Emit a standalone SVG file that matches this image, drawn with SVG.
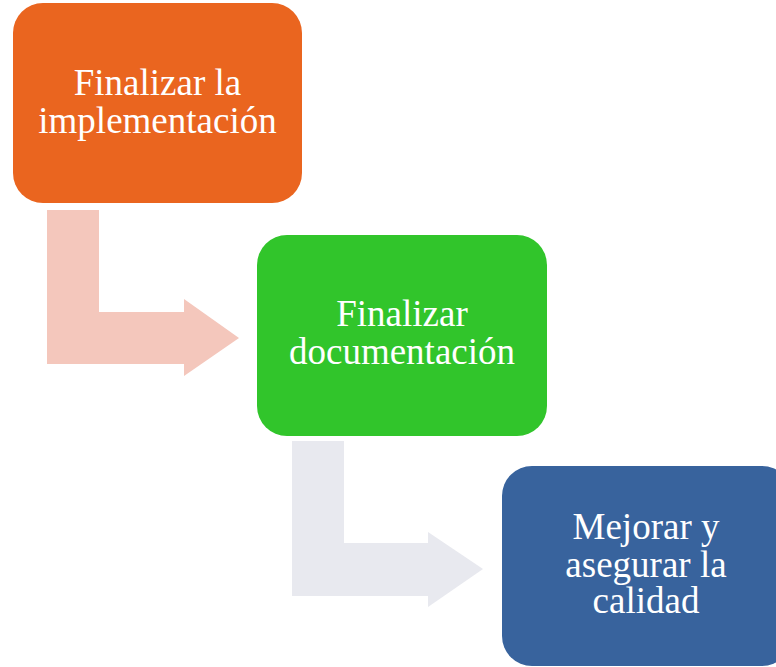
<svg xmlns="http://www.w3.org/2000/svg" width="776" height="667" viewBox="0 0 776 667">
<style>
.t{font-family:"Liberation Serif","Times New Roman",serif;font-size:37px;fill:#ffffff;text-anchor:middle}
</style>
<rect width="776" height="667" fill="#ffffff"/>
<g id="connectors">
<path id="arrow1" d="M47,210 H99 V312 H184 V299 L239,338 L184,376 V364 H47 Z" fill="#F4C7BC"/>
<path id="arrow2" d="M292,441 H344 V543 H428 V532 L483,569 L428,607 V596 H292 Z" fill="#E8E9EF"/>
</g>
<g id="node1">
<rect x="13" y="3" width="289" height="200" rx="30" ry="30" fill="#EA651F"/>
<text class="t" x="157.5" y="95">Finalizar la</text>
<text class="t" x="157.5" y="132.5">implementación</text>
</g>
<g id="node2">
<rect x="257" y="235" width="290" height="201" rx="30" ry="30" fill="#31C52B"/>
<text class="t" x="402" y="326">Finalizar</text>
<text class="t" x="402" y="364">documentación</text>
</g>
<g id="node3">
<rect x="502" y="466" width="290" height="200" rx="30" ry="30" fill="#38639D"/>
<text class="t" x="646" y="539">Mejorar y</text>
<text class="t" x="646" y="576.5">asegurar la</text>
<text class="t" x="646" y="613">calidad</text>
</g>
</svg>
